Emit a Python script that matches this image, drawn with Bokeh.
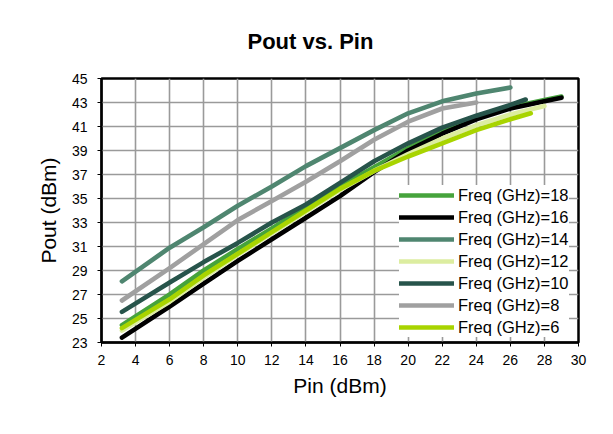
from bokeh.plotting import figure
from bokeh.models import Range1d, FixedTicker, Legend, LegendItem
from bokeh.embed import file_html
from bokeh.resources import INLINE

# ---- data ----
x_ticks = list(range(2, 31, 2))
y_ticks = list(range(23, 46, 2))

pin_18 = [3.2, 6, 8, 10, 12, 14, 16, 18, 20, 22, 24, 26, 28, 29]
pout_18 = [24.45, 27.0, 29.0, 30.8, 32.5, 34.3, 36.0, 37.6, 39.2, 40.6, 41.7, 42.6, 43.2, 43.5]

pin_16 = [3.2, 6, 8, 10, 12, 14, 16, 18, 20, 22, 24, 26, 28, 29]
pout_16 = [23.4, 26.0, 27.9, 29.8, 31.6, 33.4, 35.2, 37.2, 39.0, 40.4, 41.6, 42.5, 43.1, 43.4]

pin_14 = [3.2, 6, 8, 10, 12, 14, 16, 18, 20, 22, 24, 26]
pout_14 = [28.1, 30.9, 32.6, 34.4, 36.0, 37.7, 39.2, 40.7, 42.1, 43.1, 43.75, 44.25]

pin_12 = [3.2, 6, 8, 10, 12, 14, 16, 18, 20, 22, 24, 26, 28]
pout_12 = [24.0, 26.4, 28.4, 30.3, 32.1, 33.9, 35.7, 37.3, 38.7, 40.0, 41.1, 42.0, 42.7]

pin_10 = [3.2, 6, 8, 10, 12, 14, 16, 18, 20, 22, 24, 26, 26.9]
pout_10 = [25.55, 28.0, 29.7, 31.3, 33.0, 34.5, 36.3, 38.1, 39.6, 40.9, 41.9, 42.8, 43.25]

pin_8 = [3.2, 6, 8, 10, 12, 14, 16, 18, 20, 22, 24]
pout_8 = [26.5, 29.2, 31.2, 33.2, 34.8, 36.4, 38.1, 39.9, 41.4, 42.5, 43.0]

pin_6 = [3.2, 6, 8, 10, 12, 14, 16, 18, 20, 22, 24, 26, 27.2]
pout_6 = [24.2, 26.6, 28.6, 30.4, 32.2, 34.0, 35.8, 37.3, 38.5, 39.6, 40.7, 41.6, 42.1]

series_names = ["Freq (GHz)=18", "Freq (GHz)=16", "Freq (GHz)=14", "Freq (GHz)=12",
                "Freq (GHz)=10", "Freq (GHz)=8", "Freq (GHz)=6"]
series_colors = ["#46A33C", "#000000", "#4F8670", "#DCEDA0", "#27544B", "#A0A0A0", "#A8D400"]

series_x = [pin_18, pin_16, pin_14, pin_12, pin_10, pin_8, pin_6]
series_y = [pout_18, pout_16, pout_14, pout_12, pout_10, pout_8, pout_6]

FONT = "Liberation Sans"

p = figure(width=597, height=418, output_backend="svg", toolbar_location=None,
           x_range=Range1d(2, 30), y_range=Range1d(23, 45),
           min_border_left=101, min_border_right=19, min_border_top=78, min_border_bottom=76,
           title="Pout vs. Pin")

p.title.text_font = FONT
p.title.text_font_size = "22px"
p.title.text_font_style = "bold"
p.title.text_color = "#000000"
p.title.align = "left"
p.title.offset = 146
p.title.standoff = 50

p.outline_line_color = "#000000"
p.outline_line_width = 2.5

for ax in (p.xaxis[0], p.yaxis[0]):
    ax.axis_line_color = "#000000"
    ax.axis_line_width = 2
    ax.major_tick_line_color = "#000000"
    ax.major_tick_line_width = 1
    ax.major_tick_out = 4
    ax.major_tick_in = 0
    ax.minor_tick_line_color = None
    ax.major_label_text_font = FONT
    ax.major_label_text_font_size = "14px"
    ax.major_label_text_color = "#000000"
    ax.axis_label_text_font = FONT
    ax.axis_label_text_font_size = "21px"
    ax.axis_label_text_font_style = "normal"
    ax.axis_label_text_color = "#000000"

p.xaxis.ticker = FixedTicker(ticks=x_ticks)
p.yaxis.ticker = FixedTicker(ticks=y_ticks)
p.xaxis.axis_label = "Pin (dBm)"
p.yaxis.axis_label = "Pout (dBm)"
p.xaxis.major_label_standoff = 8
p.yaxis.major_label_standoff = 10
p.xaxis.axis_label_standoff = 6
p.yaxis.axis_label_standoff = 9

p.xgrid.ticker = FixedTicker(ticks=x_ticks)
p.ygrid.ticker = FixedTicker(ticks=y_ticks)
for g in (p.xgrid[0], p.ygrid[0]):
    g.grid_line_color = "#9a9a9a"
    g.grid_line_width = 1.6

items = []
for name, col, xs, ys in zip(series_names, series_colors, series_x, series_y):
    r = p.line(xs, ys, line_color=col, line_width=4.6, line_cap="round", line_join="round")
    items.append(LegendItem(label=name, renderers=[r]))

legend = Legend(items=items, location=(298, 5))
legend.label_text_font = FONT
legend.label_text_font_size = "16.5px"
legend.label_text_color = "#000000"
legend.glyph_width = 55
legend.glyph_height = 20
legend.label_height = 20
legend.spacing = 2
legend.padding = 3
legend.margin = 0
legend.label_standoff = 4
legend.border_line_color = None
legend.background_fill_color = "#ffffff"
legend.background_fill_alpha = 1.0
p.add_layout(legend, "center")

open("out.html", "w").write(file_html(p, INLINE))
